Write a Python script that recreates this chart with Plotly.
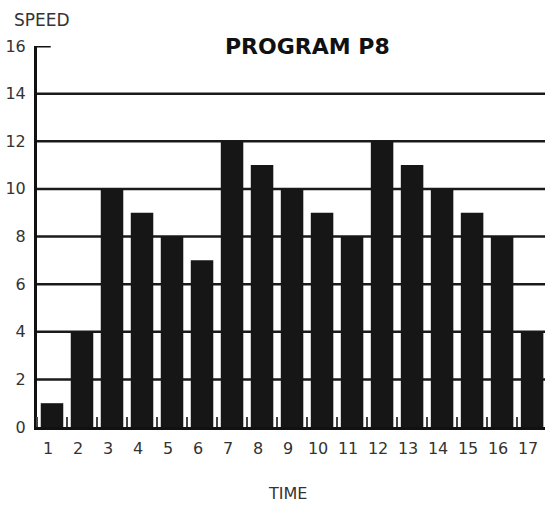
import plotly.graph_objects as go

time_steps = list(range(1, 18))
speeds = [1, 4, 10, 9, 8, 7, 12, 11, 10, 9, 8, 12, 11, 10, 9, 8, 4]
y_ticks = [0, 2, 4, 6, 8, 10, 12, 14, 16]
grid_levels = [2, 4, 6, 8, 10, 12, 14]
y_max = 16

fig = go.Figure()
fig.add_trace(go.Bar(x=time_steps, y=speeds, width=0.75,
                     marker=dict(color="#161616", line=dict(width=0))))

for g in grid_levels:
    fig.add_shape(type="line", xref="paper", yref="y", x0=0, x1=1, y0=g, y1=g,
                  line=dict(color="#1a1a1a", width=2.5), layer="below")
# short stub at the top of the axis
fig.add_shape(type="line", xref="paper", yref="y", x0=0, x1=0.027, y0=y_max, y1=y_max,
              line=dict(color="#111", width=3), layer="above")

font = "DejaVu Sans, Liberation Sans, Arial, sans-serif"

fig.update_layout(
    width=545, height=510,
    margin=dict(l=37, r=0, t=46, b=83, autoexpand=False),
    paper_bgcolor="white", plot_bgcolor="white",
    showlegend=False,
    font=dict(family=font, size=16, color="#333"),
    xaxis=dict(
        range=[0.5, 17.43], showgrid=False, zeroline=False, automargin=False,
        showline=True, linewidth=3, linecolor="#111",
        tickmode="array", tickvals=time_steps, ticktext=[str(t) for t in time_steps],
        ticks="", ticklabelshift=-4, ticklabelstandoff=5,
        minor=dict(tickmode="linear", tick0=0.5, dtick=1, ticks="inside",
                   ticklen=10, tickwidth=2, tickcolor="#444", showgrid=False),
    ),
    yaxis=dict(
        range=[0, y_max], showgrid=False, zeroline=False, automargin=False,
        showline=True, linewidth=3, linecolor="#111",
        tickmode="array", tickvals=y_ticks, ticktext=[str(v) for v in y_ticks],
        ticks="", ticklabelstandoff=5,
    ),
)

fig.add_annotation(text="<b>PROGRAM P8</b>", xref="paper", yref="paper",
                   x=0.533, y=1, xanchor="center", yanchor="middle",
                   showarrow=False, font=dict(family=font, size=22, color="#111"))
fig.add_annotation(text="SPEED", xref="paper", yref="paper",
                   x=0, y=1, xanchor="left", yanchor="middle", xshift=-25, yshift=26,
                   showarrow=False, font=dict(family=font, size=17, color="#333"))
fig.add_annotation(text="TIME", xref="paper", yref="paper",
                   x=0.494, y=0, xanchor="center", yanchor="middle", yshift=-66,
                   showarrow=False, font=dict(family=font, size=16, color="#333"))

fig.write_html("out.html", config={"displayModeBar": False},
               post_script="document.body.style.margin='0';document.body.style.overflow='hidden';")
